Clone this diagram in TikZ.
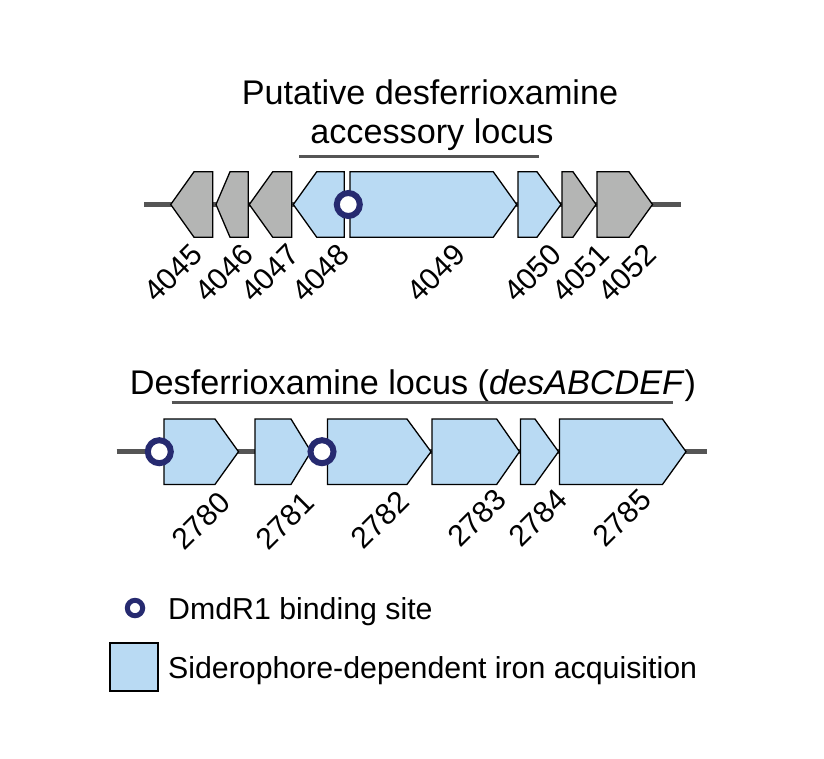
\documentclass[tikz,border=0pt]{standalone}
\usepackage{fontspec}
\setmainfont{Liberation Sans}
\definecolor{genegray}{RGB}{180,181,180}
\definecolor{geneblue}{RGB}{185,218,243}
\definecolor{ringblue}{RGB}{38,42,112}
\definecolor{linegray}{RGB}{85,85,85}
\newcommand\geneR[5]{\draw[#5] (#1,#4-32.7) -- (#2,#4-32.7) -- (#3,#4) -- (#2,#4+32.7) -- (#1,#4+32.7) -- cycle;}
\newcommand\geneL[5]{\draw[#5] (#1,#4) -- (#2,#4-32.7) -- (#3,#4-32.7) -- (#3,#4+32.7) -- (#2,#4+32.7) -- cycle;}
\tikzset{
  gene/.style={draw=black, line width=1.3pt, line join=miter},
  grayg/.style={gene, fill=genegray},
  blueg/.style={gene, fill=geneblue},
  backbone/.style={draw=linegray, line width=4.5pt},
  locusbar/.style={draw=linegray, line width=2.8pt},
  site/.style={circle, draw=ringblue, line width=6pt, fill=white, minimum size=23pt, inner sep=0pt},
  smallsite/.style={circle, draw=ringblue, line width=5pt, fill=white, minimum size=15.4pt, inner sep=0pt},
  lab/.style={rotate=45, inner sep=0pt, font=\fontsize{30}{32}\selectfont},
  title/.style={anchor=base, inner sep=0pt, font=\fontsize{34.2}{39}\selectfont},
  legtext/.style={anchor=base west, inner sep=0pt, font=\fontsize{30.3}{34}\selectfont},
}
\begin{document}
\begin{tikzpicture}[x=1pt, y=-1pt]
\fill[white] (0,0) rectangle (824,758);
\useasboundingbox (0,0) rectangle (824,758);

% titles
\node[title] (t1a) at (430,104) {Putative desferrioxamine};
\node[title] (t1b) at (432,143) {accessory locus};
\node[title] (t2) at (413,394) {Desferrioxamine locus (\textit{desABCDEF})};

% locus bars
\coordinate (lb1a) at (299.3,156.7);
\coordinate (lb1b) at (539.3,156.7);
\draw[locusbar] (lb1a) -- (lb1b);
\coordinate (lb2a) at (171.7,402.3);
\coordinate (lb2b) at (673.3,402.3);
\draw[locusbar] (lb2a) -- (lb2b);

% top row
\coordinate (bb1L) at (144,204.5);
\coordinate (bb1R) at (681,204.5);
\draw[backbone] (bb1L) -- (bb1R);
\geneL{170.7}{194}{212.7}{204.5}{grayg}
\geneL{216}{230}{248.3}{204.5}{grayg}
\geneL{249.3}{272.7}{291.7}{204.5}{grayg}
\geneL{293.3}{316.7}{344.3}{204.5}{blueg}
\geneR{350}{493.3}{516.7}{204.5}{blueg}
\geneR{518}{537}{561}{204.5}{blueg}
\geneR{562}{573}{596}{204.5}{grayg}
\geneR{597}{629}{652.5}{204.5}{grayg}
\node[site] (s1) at (348.3,204.5) {};

\node[lab] (l4045) at (173,273) {4045};
\node[lab] (l4046) at (224,273) {4046};
\node[lab] (l4047) at (270,273) {4047};
\node[lab] (l4048) at (320.5,273) {4048};
\node[lab] (l4049) at (436,273) {4049};
\node[lab] (l4050) at (532.5,273) {4050};
\node[lab] (l4051) at (580.5,273) {4051};
\node[lab] (l4052) at (627,273) {4052};

% bottom row
\coordinate (bb2L) at (116.7,451.7);
\coordinate (bb2R) at (707.3,451.7);
\draw[backbone] (bb2L) -- (bb2R);
\geneR{164}{215}{238.5}{451.7}{blueg}
\geneR{255}{291}{311}{451.7}{blueg}
\geneR{327.5}{407}{431}{451.7}{blueg}
\geneR{432}{496.7}{519.5}{451.7}{blueg}
\geneR{520.5}{535}{558.5}{451.7}{blueg}
\geneR{559.5}{662.5}{686}{451.7}{blueg}
\node[site] (s2) at (159.3,451.7) {};
\node[site] (s3) at (322,451.7) {};

\node[lab] (l2780) at (201,521) {2780};
\node[lab] (l2781) at (285,521) {2781};
\node[lab] (l2782) at (380,520) {2782};
\node[lab] (l2783) at (477,518) {2783};
\node[lab] (l2784) at (538,518) {2784};
\node[lab] (l2785) at (622,518) {2785};

% legend
\node[smallsite] (lc) at (135,608) {};
\node[legtext] (lt1) at (168,619.5) {DmdR1 binding site};
\node[draw=black, line width=1.3pt, fill=geneblue, minimum size=48pt, inner sep=0pt] (lsq) at (134,667) {};
\node[legtext] (lt2) at (168,678) {Siderophore-dependent iron acquisition};
\end{tikzpicture}
\end{document}
